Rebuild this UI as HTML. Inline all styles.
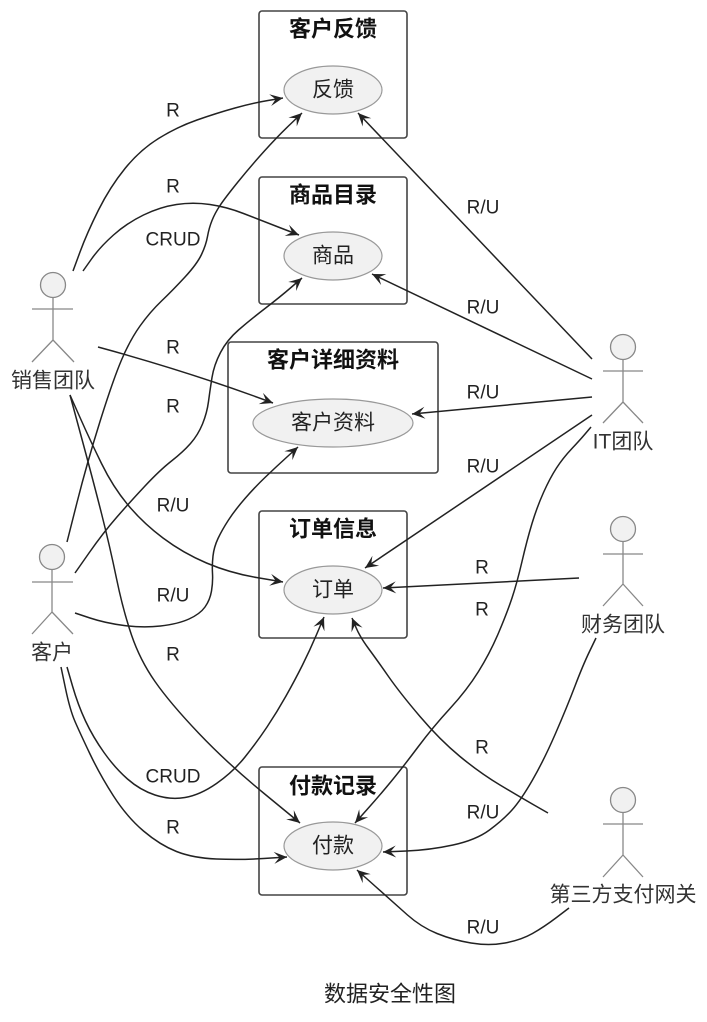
<!DOCTYPE html>
<html>
<head>
<meta charset="utf-8">
<style>
html,body{margin:0;padding:0;background:#fff;}
svg{display:block;}
.t{font-family:"Liberation Sans","Noto Sans CJK SC",sans-serif;}
</style>
</head>
<body>
<svg width="707" height="1022" viewBox="0 0 707 1022" xmlns="http://www.w3.org/2000/svg">
<defs>
<marker id="a" markerWidth="15" markerHeight="14" refX="14" refY="7" orient="auto" markerUnits="userSpaceOnUse" viewBox="0 0 15 14">
<path d="M14,7 L1,1 L6.5,7 L1,13 Z" fill="#222"/>
</marker>
</defs>
<rect width="707" height="1022" fill="#fff"/>

<!-- boxes -->
<g fill="none" stroke="#444" stroke-width="1.6">
<rect x="259" y="11" width="148" height="127" rx="3"/>
<rect x="259" y="177" width="148" height="127" rx="3"/>
<rect x="228" y="342" width="210" height="131" rx="3"/>
<rect x="259" y="511" width="148" height="127" rx="3"/>
<rect x="259" y="767" width="148" height="128" rx="3"/>
</g>

<!-- ellipses -->
<g fill="#f1f1f1" stroke="#999" stroke-width="1.2">
<ellipse cx="333" cy="90" rx="49" ry="24"/>
<ellipse cx="333" cy="256" rx="49" ry="24"/>
<ellipse cx="333" cy="423" rx="80" ry="24"/>
<ellipse cx="333" cy="590" rx="49" ry="24"/>
<ellipse cx="333" cy="846" rx="49" ry="24"/>
</g>

<!-- box titles -->
<g class="t" font-size="22" font-weight="bold" fill="#111" text-anchor="middle" dominant-baseline="central">
<text x="333" y="29">客户反馈</text>
<text x="333" y="195">商品目录</text>
<text x="333" y="360">客户详细资料</text>
<text x="333" y="529">订单信息</text>
<text x="333" y="786">付款记录</text>
</g>

<!-- ellipse labels -->
<g class="t" font-size="21" fill="#222" text-anchor="middle" dominant-baseline="central">
<text x="333" y="90">反馈</text>
<text x="333" y="256">商品</text>
<text x="333" y="423">客户资料</text>
<text x="333" y="590">订单</text>
<text x="333" y="846">付款</text>
</g>

<!-- actors -->
<g stroke="#888" stroke-width="1.3" fill="none">
<circle cx="53" cy="285" r="12.5" fill="#f1f1f1"/>
<path d="M53,297.5 V340 M32,309 H73 M53,340 L32,362 M53,340 L74,362"/>
<circle cx="52" cy="557" r="12.5" fill="#f1f1f1"/>
<path d="M52,569.5 V612 M32,582 H73 M52,612 L32,634 M52,612 L73,634"/>
<circle cx="623" cy="347" r="12.5" fill="#f1f1f1"/>
<path d="M623,359.5 V402 M603,371 H643 M623,402 L603,423 M623,402 L643,423"/>
<circle cx="623" cy="529" r="12.5" fill="#f1f1f1"/>
<path d="M623,541.5 V584 M603,554 H643 M623,584 L603,606 M623,584 L643,606"/>
<circle cx="623" cy="800" r="12.5" fill="#f1f1f1"/>
<path d="M623,812.5 V855 M603,824 H643 M623,855 L603,877 M623,855 L643,877"/>
</g>

<g class="t" font-size="21" fill="#333" text-anchor="middle" dominant-baseline="central">
<text x="53" y="381">销售团队</text>
<text x="52" y="653">客户</text>
<text x="623" y="442">IT团队</text>
<text x="623" y="625">财务团队</text>
<text x="623" y="895">第三方支付网关</text>
</g>

<!-- connectors -->
<g fill="none" stroke="#222" stroke-width="1.5" marker-end="url(#a)">
<path d="M73,271 L80,252 Q87,233 98.5,210 Q110,187 125,168.5 Q140,150 158.5,138.5 Q177,127 197,120 Q217,113 235,108 Q253,103 268,100.5 L283,98"/>
<path d="M83,271 L91.5,259 Q100,247 113.5,235 Q127,223 143.5,215 Q160,207 176.5,204.5 Q193,202 210,204.5 Q227,207 243.5,213.5 Q260,220 279.5,227.5 L299,235"/>
<path d="M67,542 L77,502.5 Q87,463 100,421.5 Q113,380 121.5,360 Q130,340 140,326 Q150,312 161.5,301 Q173,290 185,277 Q197,264 201.5,254.5 Q206,245 207.5,236.5 Q209,228 212,220.5 Q215,213 220,205.5 Q225,198 237.5,182.5 Q250,167 263.5,152 Q277,137 289.5,125 L302,113"/>
<path d="M98,347 Q190,372 273,403"/>
<path d="M75,573 L89,553 Q103,533 116.5,517.5 Q130,502 145,486 Q160,470 171.5,461 Q183,452 190.5,443.5 Q198,435 202.5,424 Q207,413 208.5,401.5 Q210,390 212,377.5 Q214,365 220.5,352.5 Q227,340 238.5,330 Q250,320 265,308.5 Q280,297 291,287.5 L302,278"/>
<path d="M70,395 L80,417.5 Q90,440 101.5,463.5 Q113,487 128,505 Q143,523 163,538 Q183,553 206.5,563 Q230,573 256.5,577.5 L283,582"/>
<path d="M75,613 L90,618 Q105,623 124,625.5 Q143,628 160.5,626 Q178,624 189,619 Q200,614 205,607 Q210,600 211.5,591 Q213,582 212.5,573.5 Q212,565 213,556 Q214,547 218,538.5 Q222,530 228.5,520 Q235,510 245,498.5 Q255,487 266,476.5 Q277,466 287.5,456.5 L298,447"/>
<path d="M70,395 L81.5,437.5 Q93,480 101.5,513.5 Q110,547 116.5,578.5 Q123,610 131.5,635 Q140,660 155,681.5 Q170,703 198.5,733 Q227,763 263.5,793 L300,823"/>
<path d="M67,667 L72.5,686 Q78,705 85.5,721 Q93,737 104,752.5 Q115,768 127.5,779 Q140,790 155,795 Q170,800 185,797.5 Q200,795 216.5,783.5 Q233,772 245,757 Q257,742 267,727 Q277,712 286,696 Q295,680 302.5,665 Q310,650 317,633.5 L324,617"/>
<path d="M61,667 L65.5,688.5 Q70,710 75,721.5 Q80,733 90,754 Q100,775 113.5,796 Q127,817 143.5,831 Q160,845 176.5,851.5 Q193,858 216.5,859 Q240,860 263.5,858.5 L287,857"/>
<path d="M592,359 L358,113"/>
<path d="M592,379 L372,274"/>
<path d="M592,397 L412,414"/>
<path d="M592,415 L365,568"/>
<path d="M591,427 L585.5,433.5 Q580,440 571.5,449 Q563,458 556.5,468 Q550,478 543.5,492.5 Q537,507 532,523.5 Q527,540 522,561.5 Q517,583 512,598 Q507,613 498.5,633 Q490,653 478.5,671.5 Q467,690 450,708.5 Q433,727 418,747 Q403,767 391.5,781 Q380,795 367.5,809 L355,823"/>
<path d="M579,578 L383,588"/>
<path d="M596,638 L589.5,651.5 Q583,665 575,686 Q567,707 555.5,733.5 Q544,760 532.5,780 Q521,800 512,810 Q503,820 489.5,830 Q476,840 453,845 Q430,850 406.5,851 L383,852"/>
<path d="M548,813 L534,805 Q520,797 500,785 Q480,773 460,756.5 Q440,740 420,716.5 Q400,693 388.5,676.5 Q377,660 368.5,648.5 Q360,637 356,627.5 L352,618"/>
<path d="M569,908 L556.5,917.5 Q544,927 532.5,933.5 Q521,940 505,943 Q489,946 471,943 Q453,940 437,933.5 Q421,927 407.5,915 Q394,903 375.5,886.5 L357,870"/>
</g>

<!-- connector labels -->
<g class="t" font-size="19" fill="#222" text-anchor="middle" dominant-baseline="central">
<text x="173" y="111">R</text>
<text x="173" y="187">R</text>
<text x="173" y="240">CRUD</text>
<text x="173" y="348">R</text>
<text x="173" y="407">R</text>
<text x="173" y="506">R/U</text>
<text x="173" y="596">R/U</text>
<text x="173" y="655">R</text>
<text x="173" y="777">CRUD</text>
<text x="173" y="828">R</text>
<text x="483" y="208">R/U</text>
<text x="483" y="308">R/U</text>
<text x="483" y="393">R/U</text>
<text x="483" y="467">R/U</text>
<text x="482" y="568">R</text>
<text x="482" y="610">R</text>
<text x="482" y="748">R</text>
<text x="483" y="813">R/U</text>
<text x="483" y="928">R/U</text>
</g>

<text class="t" x="390" y="994" font-size="22" fill="#222" text-anchor="middle" dominant-baseline="central">数据安全性图</text>
</svg>
</body>
</html>
